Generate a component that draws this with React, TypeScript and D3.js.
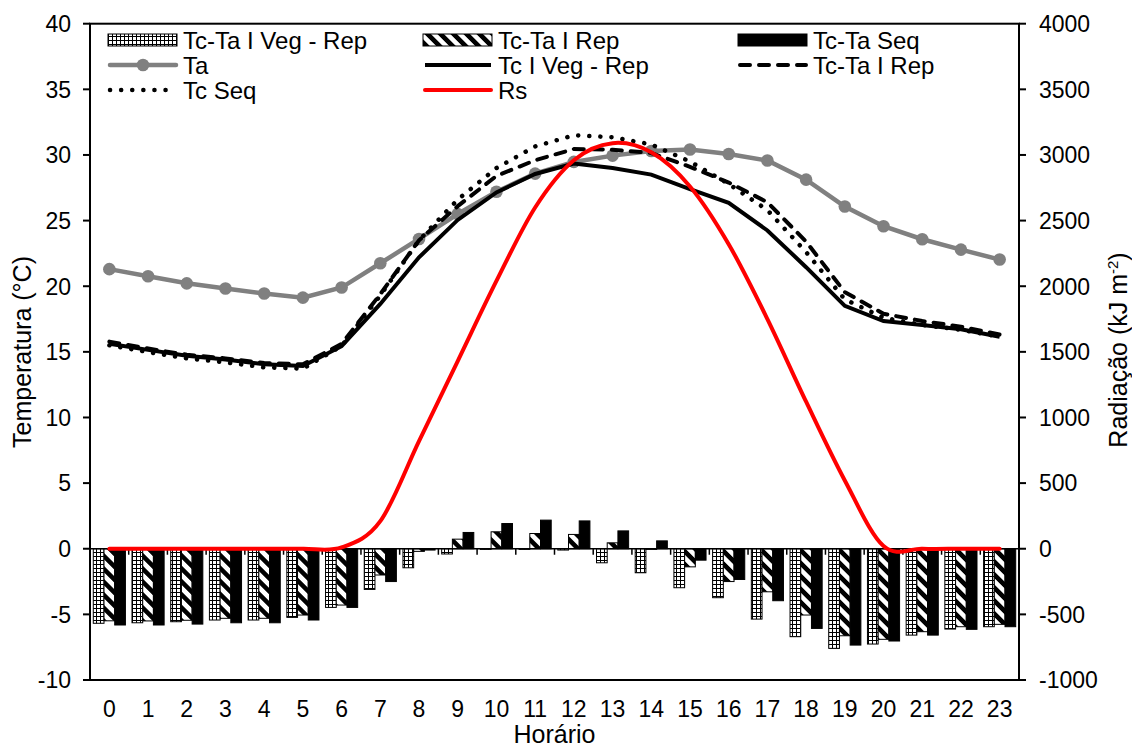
import React from 'react';
import * as d3 from 'd3';

// categories (hour of day)
const hours = ['0', '1', '2', '3', '4', '5', '6', '7', '8', '9', '10', '11', '12', '13', '14', '15', '16', '17', '18', '19', '20', '21', '22', '23'];

// bars: canopy - air temperature difference (°C)
const tcTaVegRep = [-5.68, -5.64, -5.56, -5.43, -5.43, -5.23, -4.47, -3.1, -1.45, -0.4, -0.05, -0.05, -0.1, -1.07, -1.83, -2.97, -3.73, -5.36, -6.7, -7.59, -7.26, -6.58, -6.12, -5.94];
const tcTaRep = [-5.49, -5.5, -5.45, -5.3, -5.3, -5.05, -4.29, -2.0, -0.2, 0.73, 1.29, 1.16, 1.09, 0.45, -0.05, -1.38, -2.5, -3.28, -5.05, -6.63, -6.9, -6.32, -5.94, -5.76];
const tcTaSeq = [-5.81, -5.81, -5.74, -5.64, -5.64, -5.43, -4.47, -2.5, -0.1, 1.24, 1.92, 2.18, 2.12, 1.36, 0.6, -0.87, -2.34, -3.96, -6.07, -7.34, -7.03, -6.58, -6.14, -5.94];

// lines (°C)
const ta = [21.3, 20.76, 20.22, 19.83, 19.44, 19.13, 19.9, 21.75, 23.6, 25.5, 27.2, 28.58, 29.47, 29.95, 30.3, 30.42, 30.07, 29.58, 28.12, 26.07, 24.57, 23.58, 22.79, 22.03];
const tcVegRep = [15.62, 15.15, 14.7, 14.42, 14.05, 13.92, 15.43, 18.65, 22.2, 25.05, 27.15, 28.55, 29.35, 29.0, 28.5, 27.4, 26.35, 24.25, 21.45, 18.5, 17.35, 17.05, 16.72, 16.15];
const tcRep = [15.78, 15.25, 14.78, 14.5, 14.15, 14.05, 15.6, 19.4, 23.5, 26.1, 28.4, 29.6, 30.45, 30.4, 30.15, 29.1, 27.9, 26.4, 23.4, 19.55, 17.9, 17.35, 16.92, 16.32];
const tcSeq = [15.5, 14.98, 14.5, 14.2, 13.82, 13.72, 15.45, 19.3, 23.5, 26.6, 29.0, 30.65, 31.5, 31.35, 30.8, 29.5, 27.8, 25.8, 22.6, 19.0, 17.6, 17.05, 16.68, 16.15];

// solar radiation (kJ m-2)
const rs = [0, 0, 0, 0, 0, 0, 10, 210, 820, 1430, 2040, 2600, 2960, 3090, 3020, 2760, 2320, 1750, 1120, 520, 20, 0, 0, 0];

const tempTicks = [-10, -5, 0, 5, 10, 15, 20, 25, 30, 35, 40];
const radTicks = [-1000, -500, 0, 500, 1000, 1500, 2000, 2500, 3000, 3500, 4000];

const font = '"Liberation Sans", Arial, sans-serif';

export default function App() {
  const left = 90;
  const right = 1019;
  const top = 23.7;
  const bottom = 680;

  const x = d3.scaleBand().domain(hours).range([left, right]).padding(0);
  const bw = x.bandwidth();
  const xs = d3
    .scaleBand()
    .domain(['veg', 'rep', 'seq'])
    .range([bw * 0.085, bw * 0.915]);
  const y = d3.scaleLinear().domain([-10, 40]).range([bottom, top]);
  const y2 = d3.scaleLinear().domain([-1000, 4000]).range([bottom, top]);

  const cx = (i: number) => (x(hours[i]) as number) + bw / 2;

  const tempLine = d3
    .line<number>()
    .x((_, i) => cx(i))
    .y(d => y(d));
  const radLine = d3
    .line<number>()
    .x((_, i) => cx(i))
    .y(d => y2(d))
    .curve(d3.curveCardinal.tension(0));

  const barSeries = [
    { key: 'veg', values: tcTaVegRep, fill: 'url(#dots)' },
    { key: 'rep', values: tcTaRep, fill: 'url(#hatch)' },
    { key: 'seq', values: tcTaSeq, fill: '#000' },
  ];

  const legendCols = [108, 423, 738];
  const legendRows = [40, 65, 90];
  const legend = [
    { label: 'Tc-Ta I Veg - Rep', kind: 'bar', fill: 'url(#dots)', col: 0, row: 0 },
    { label: 'Tc-Ta I Rep', kind: 'bar', fill: 'url(#hatch)', col: 1, row: 0 },
    { label: 'Tc-Ta Seq', kind: 'bar', fill: '#000', col: 2, row: 0 },
    { label: 'Ta', kind: 'ta', col: 0, row: 1 },
    { label: 'Tc I Veg - Rep', kind: 'solid', col: 1, row: 1 },
    { label: 'Tc-Ta I Rep', kind: 'dash', col: 2, row: 1 },
    { label: 'Tc Seq', kind: 'dot', col: 0, row: 2 },
    { label: 'Rs', kind: 'red', col: 1, row: 2 },
  ];

  const lineStyle: Record<string, any> = {
    solid: { stroke: '#000', strokeWidth: 4 },
    dash: { stroke: '#000', strokeWidth: 4, strokeDasharray: '10 9', strokeLinecap: 'round' },
    dot: { stroke: '#000', strokeWidth: 4.5, strokeDasharray: '0.1 11', strokeLinecap: 'round' },
    red: { stroke: '#ff0000', strokeWidth: 4, strokeLinecap: 'round' },
    ta: { stroke: '#808080', strokeWidth: 4.5, strokeLinecap: 'round' },
  };

  const tickFont = 23;

  return (
    <svg
      width={1132}
      height={747}
      style={{ position: 'absolute', left: 0, top: 0, background: '#fff' }}
      fontFamily={font}
    >
      <defs>
        <pattern id="dots" patternUnits="userSpaceOnUse" width={4} height={4}>
          <rect width={4} height={4} fill="#000" />
          <rect x={1} y={1} width={3} height={3} fill="#fff" />
        </pattern>
        <pattern
          id="hatch"
          patternUnits="userSpaceOnUse"
          width={9.2}
          height={9.2}
          patternTransform="rotate(-45)"
        >
          <rect width={9.2} height={9.2} fill="#fff" />
          <rect width={4.6} height={9.2} fill="#000" />
        </pattern>
      </defs>

      {/* Bars */}
      {barSeries.map(s =>
        s.values.map((v, i) => (
          <rect
            key={s.key + i}
            x={(x(hours[i]) as number) + (xs(s.key) as number)}
            y={Math.min(y(v), y(0))}
            width={xs.bandwidth()}
            height={Math.abs(y(v) - y(0))}
            fill={s.fill}
            stroke="#000"
            strokeWidth={1}
          />
        ))
      )}

      {/* zero axis with category ticks */}
      <line x1={left} x2={right} y1={y(0)} y2={y(0)} stroke="#000" strokeWidth={1.5} />
      {hours.map((h, i) =>
        i === 0 ? null : (
          <line
            key={'xt' + h}
            x1={x(h)}
            x2={x(h)}
            y1={y(0)}
            y2={y(0) + 6}
            stroke="#000"
            strokeWidth={1.5}
          />
        )
      )}

      {/* Lines */}
      <path d={tempLine(ta) || ''} fill="none" {...lineStyle.ta} />
      {ta.map((v, i) => (
        <circle key={'ta' + i} cx={cx(i)} cy={y(v)} r={6.3} fill="#808080" />
      ))}
      <path d={tempLine(tcVegRep) || ''} fill="none" {...lineStyle.solid} />
      <path d={tempLine(tcRep) || ''} fill="none" {...lineStyle.dash} />
      <path d={tempLine(tcSeq) || ''} fill="none" {...lineStyle.dot} />
      <path d={radLine(rs) || ''} fill="none" {...lineStyle.red} />

      {/* Frame */}
      <rect
        x={left}
        y={top}
        width={right - left}
        height={bottom - top}
        fill="none"
        stroke="#000"
        strokeWidth={2}
      />

      {/* Left axis */}
      {tempTicks.map(t => (
        <g key={'l' + t}>
          <line x1={left - 7} x2={left} y1={y(t)} y2={y(t)} stroke="#000" strokeWidth={2} />
          <text x={71} y={y(t)} dy="0.36em" textAnchor="end" fontSize={tickFont}>
            {t}
          </text>
        </g>
      ))}

      {/* Right axis */}
      {radTicks.map(t => (
        <g key={'r' + t}>
          <line x1={right} x2={right + 7} y1={y2(t)} y2={y2(t)} stroke="#000" strokeWidth={2} />
          <text x={1039} y={y2(t)} dy="0.36em" textAnchor="start" fontSize={tickFont}>
            {t}
          </text>
        </g>
      ))}

      {/* Category labels */}
      {hours.map((h, i) => (
        <text key={'xl' + h} x={cx(i)} y={717} textAnchor="middle" fontSize={tickFont}>
          {h}
        </text>
      ))}

      {/* Axis titles */}
      <text x={(left + right) / 2} y={743} textAnchor="middle" fontSize={25}>
        Horário
      </text>
      <text transform="translate(31,352) rotate(-90)" textAnchor="middle" fontSize={25}>
        Temperatura (°C)
      </text>
      <text transform="translate(1127,350) rotate(-90)" textAnchor="middle" fontSize={25}>
        Radiação (kJ m
        <tspan fontSize={15} dy={-9}>
          -2
        </tspan>
        <tspan dy={9}>)</tspan>
      </text>

      {/* Legend */}
      {legend.map(item => {
        const lx = legendCols[item.col];
        const ly = legendRows[item.row];
        return (
          <g key={item.label + item.col}>
            {item.kind === 'bar' ? (
              <rect
                x={lx}
                y={ly - 6}
                width={69}
                height={12}
                fill={item.fill}
                stroke="#000"
                strokeWidth={1}
              />
            ) : (
              <line x1={lx + 2} x2={lx + 68} y1={ly} y2={ly} {...lineStyle[item.kind]} />
            )}
            {item.kind === 'ta' && <circle cx={lx + 35} cy={ly} r={6.3} fill="#808080" />}
            <text x={lx + 75} y={ly} dy="0.36em" fontSize={24}>
              {item.label}
            </text>
          </g>
        );
      })}
    </svg>
  );
}
